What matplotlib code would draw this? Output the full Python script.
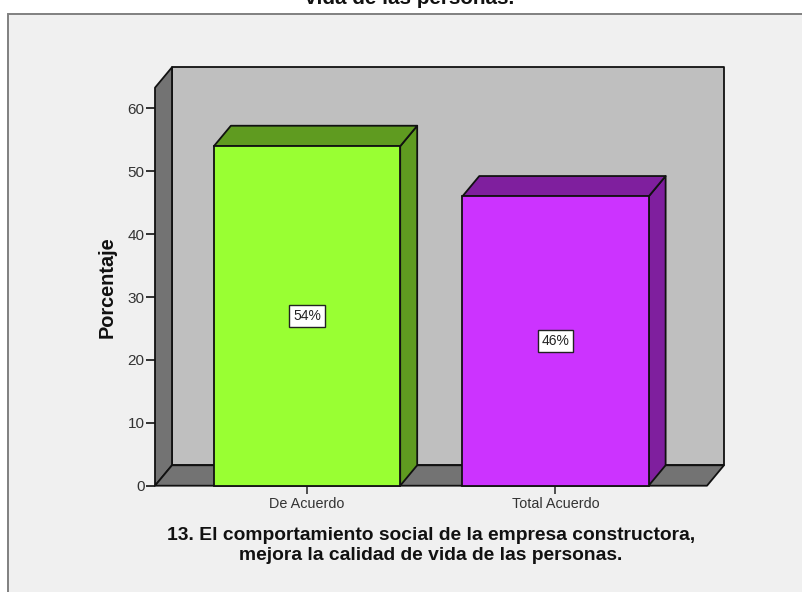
"""Percentage bar chart with an extruded 3D look, drawn on a plain matplotlib axes."""

from __future__ import annotations

import matplotlib

matplotlib.use("Agg")
from matplotlib import pyplot as plt
from matplotlib.patches import Polygon, Rectangle

categories = ["De Acuerdo", "Total Acuerdo"]
percentages = [54, 46]
bar_colors = ["#99FF33", "#CC33FF"]
side_colors = ["#5F9B20", "#7F1F9E"]
y_ticks = [0, 10, 20, 30, 40, 50, 60]
y_label = "Porcentaje"
x_title = (
    "13. El comportamiento social de la empresa constructora,\n"
    "mejora la calidad de vida de las personas."
)
top_title = "vida de las personas."

WIDTH, HEIGHT = 802, 592
BAR_WIDTH = 0.75
DEPTH_X = 0.0684
DEPTH_Y = 3.25
X_MIN, X_MAX = -0.612, 1.61
Y_MAX = 63.3
EDGE = "#111111"
FONT = "Liberation Sans"


def add_poly(axes, points, color, zorder):
    axes.add_patch(
        Polygon(points, closed=True, facecolor=color, edgecolor=EDGE,
                linewidth=1.3, joinstyle="round", clip_on=False, zorder=zorder)
    )


def draw_frame(axes):
    # left wall, floor and back wall of the box
    add_poly(axes, [(X_MIN + DEPTH_X, DEPTH_Y), (X_MAX + DEPTH_X, DEPTH_Y),
                    (X_MAX + DEPTH_X, Y_MAX + DEPTH_Y), (X_MIN + DEPTH_X, Y_MAX + DEPTH_Y)],
             "#BFBFBF", 1)
    add_poly(axes, [(X_MIN, 0), (X_MIN + DEPTH_X, DEPTH_Y),
                    (X_MIN + DEPTH_X, Y_MAX + DEPTH_Y), (X_MIN, Y_MAX)],
             "#737373", 1)
    add_poly(axes, [(X_MIN, 0), (X_MAX, 0), (X_MAX + DEPTH_X, DEPTH_Y),
                    (X_MIN + DEPTH_X, DEPTH_Y)],
             "#737373", 1)


def draw_bar(axes, center, value, face, side):
    left = center - BAR_WIDTH / 2
    right = center + BAR_WIDTH / 2
    add_poly(axes, [(right, 0), (right + DEPTH_X, DEPTH_Y),
                    (right + DEPTH_X, value + DEPTH_Y), (right, value)], side, 3)
    add_poly(axes, [(left, value), (right, value),
                    (right + DEPTH_X, value + DEPTH_Y), (left + DEPTH_X, value + DEPTH_Y)],
             side, 3)
    axes.add_patch(
        Rectangle((left, 0), BAR_WIDTH, value, facecolor=face, edgecolor=EDGE,
                  linewidth=1.3, clip_on=False, zorder=4)
    )
    axes.text(
        center, value / 2, f"{value}%", ha="center", va="center", fontsize=10,
        family=FONT, color="#222222", zorder=5,
        bbox=dict(boxstyle="square,pad=0.28", facecolor="white", edgecolor="#222222", linewidth=1.0),
    )


def main() -> None:
    figure = plt.figure(figsize=(WIDTH / 100, HEIGHT / 100), dpi=100, facecolor="white")

    # grey chart panel behind everything, cut off by the right and bottom edges
    figure.add_artist(
        Rectangle((7.5 / WIDTH, -0.02), 1.0, 1 - 13.5 / HEIGHT + 0.02, transform=figure.transFigure,
                  facecolor="#F0F0F0", edgecolor="#808080", linewidth=1.4, zorder=-1)
    )
    figure.text(410 / WIDTH, 1 + 1 / HEIGHT, top_title, ha="center", va="center",
                fontsize=14.9, fontweight="bold", family=FONT, color="#111111")

    axes = figure.add_axes([155 / WIDTH, 1 - 485.7 / HEIGHT, 552 / WIDTH, 398 / HEIGHT])
    axes.set_xlim(X_MIN, X_MAX)
    axes.set_ylim(0, Y_MAX)
    axes.patch.set_visible(False)
    for spine in axes.spines.values():
        spine.set_visible(False)

    draw_frame(axes)
    positions = list(range(len(categories)))
    for center, value, face, side in zip(positions, percentages, bar_colors, side_colors):
        draw_bar(axes, center, value, face, side)

    axes.set_yticks(y_ticks)
    axes.set_xticks(positions, categories)
    axes.tick_params(axis="y", length=6.5, width=1.2, color=EDGE, pad=1, labelsize=11, labelcolor="#333333")
    axes.tick_params(axis="x", length=6, width=1.2, color="#333333", pad=2, labelsize=10.4, labelcolor="#333333")
    for label in axes.get_xticklabels() + axes.get_yticklabels():
        label.set_family(FONT)

    figure.text(107.5 / WIDTH, 1 - 287 / HEIGHT, y_label, rotation=90, ha="center", va="center",
                fontsize=14.3, fontweight="bold", family=FONT, color="#111111")
    figure.text(431 / WIDTH, 1 - 545.5 / HEIGHT, x_title, ha="center", va="center", linespacing=1.22,
                fontsize=13.9, fontweight="bold", family=FONT, color="#111111")

    figure.savefig("out.png", dpi=100)
    plt.close(figure)


if __name__ == "__main__":
    main()
